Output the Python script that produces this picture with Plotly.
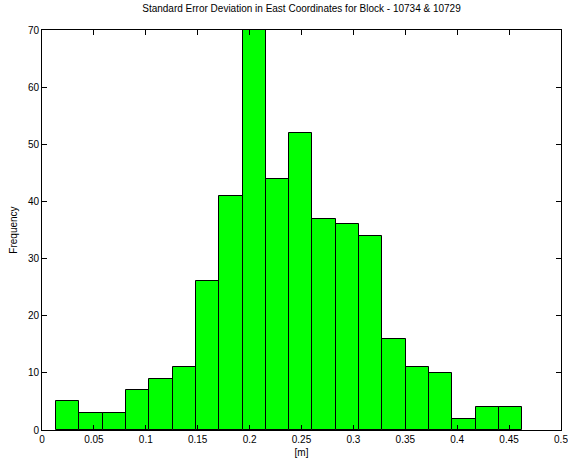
import plotly.graph_objects as go

# Histogram data (20 bins)
bin_start = 0.0135
bin_end = 0.4627
counts = [5, 3, 3, 7, 9, 11, 26, 41, 70, 44, 52, 37, 36, 34, 16, 11, 10, 2, 4, 4]
x_ticks = [0, 0.05, 0.1, 0.15, 0.2, 0.25, 0.3, 0.35, 0.4, 0.45, 0.5]
x_tick_labels = ["0", "0.05", "0.1", "0.15", "0.2", "0.25", "0.3", "0.35", "0.4", "0.45", "0.5"]
y_ticks = [0, 10, 20, 30, 40, 50, 60, 70]

n = len(counts)
w = (bin_end - bin_start) / n
centers = [bin_start + w * (i + 0.5) for i in range(n)]

font = dict(family="Liberation Sans, Arial, sans-serif", size=10, color="black")

fig = go.Figure(go.Bar(
    x=centers, y=counts, width=w,
    marker=dict(color="#00FF00", line=dict(color="black", width=1)),
    hoverinfo="x+y",
))

fig.update_layout(
    width=568, height=461,
    margin=dict(l=42, r=7, t=30, b=31, autoexpand=False),
    paper_bgcolor="white", plot_bgcolor="white",
    font=font,
    showlegend=False,
    bargap=0,
    title=dict(text="Standard Error Deviation in East Coordinates for Block - 10734 & 10729",
               x=0.5, xref="paper", y=1, yref="container", yanchor="top", pad=dict(t=5),
               font=font),
)
fig.update_xaxes(
    range=[0, 0.5], tickvals=x_ticks, ticktext=x_tick_labels,
    ticks="inside", ticklen=5, tickcolor="black", showline=True, linecolor="black",
    linewidth=1, mirror="ticks", showgrid=False, zeroline=False,
    title=dict(text="[m]", standoff=4, font=font), tickfont=font, automargin=False,
    ticklabeloverflow="allow",
)
fig.update_yaxes(
    range=[0, 70], tickvals=y_ticks,
    ticks="inside", ticklen=5, tickcolor="black", showline=True, linecolor="black",
    linewidth=1, mirror="ticks", showgrid=False, zeroline=False,
    title=dict(text="Frequency", standoff=8, font=font), tickfont=font, automargin=False,
    ticklabeloverflow="allow",
)

fig.write_html("out.html")
